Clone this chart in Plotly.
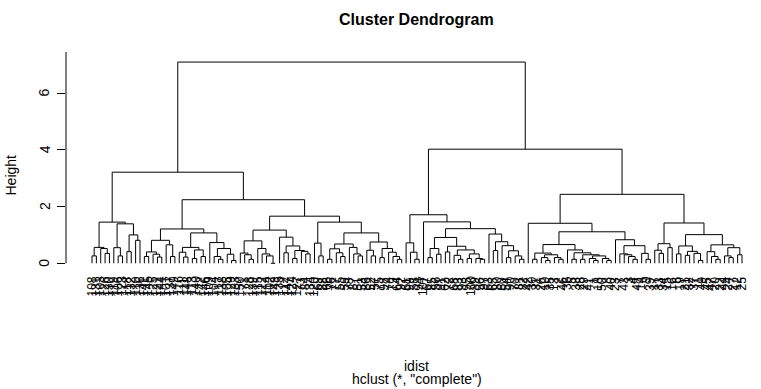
import numpy as np
import plotly.graph_objects as go

# Leaf labels in dendrogram order (left to right)
leaf_labels = [
    108, 131, 103, 126, 130, 119, 106, 123, 118, 132, 110, 136, 141, 145, 125, 121, 144, 101, 137, 149, 116, 111, 148, 113, 140,
    142, 146, 109, 104, 117, 138, 105, 129, 133, 150, 71, 128, 139, 115, 122, 114, 102, 143, 135, 112, 147, 124, 127, 73, 84,
    134, 120, 69, 88, 66, 76, 77, 55, 59, 78, 87, 51, 53, 86, 52, 57, 75, 98, 74, 79, 64, 92, 61, 99, 58,
    94, 107, 67, 85, 56, 91, 62, 72, 68, 83, 93, 95, 100, 89, 96, 97, 63, 65, 80, 60, 54, 90, 70, 81, 82,
    42, 30, 31, 26, 10, 35, 13, 2, 46, 36, 5, 38, 28, 29, 41, 1, 18, 50, 8, 40, 23, 7, 43, 3, 4,
    48, 14, 9, 39, 17, 33, 34, 15, 16, 6, 19, 21, 32, 37, 11, 49, 45, 47, 20, 22, 44, 24, 27, 12, 25,
]

# Height at which each pair of neighbouring leaves is joined
join_heights = [
    0.26, 0.56, 0.52, 0.35, 1.45, 0.55, 0.26, 1.39, 0.41, 1.00, 0.81, 3.21, 0.24, 0.40, 0.32, 0.22, 0.81, 0.65, 0.24, 1.21, 0.39, 0.22, 0.56, 0.17, 0.47,
    0.24, 1.07, 0.73, 0.24, 0.14, 0.52, 0.32, 0.10, 2.24, 0.36, 0.30, 0.14, 0.79, 0.52, 0.33, 0.26, 0.00, 1.17, 0.92, 0.37, 0.61, 0.17, 0.45, 0.42, 0.33,
    1.66, 0.71, 0.26, 1.45, 0.14, 0.51, 0.37, 0.24, 0.68, 0.56, 0.33, 0.26, 1.07, 0.46, 0.26, 0.75, 0.20, 0.52, 0.39, 0.24, 0.14, 7.09, 0.72, 0.39, 0.14,
    1.71, 1.46, 0.20, 0.52, 0.32, 0.91, 0.40, 0.60, 0.28, 0.14, 0.47, 0.17, 0.33, 0.17, 0.14, 1.22, 1.03, 0.45, 0.76, 0.62, 0.20, 0.44, 0.26, 0.14, 4.02,
    1.41, 0.14, 0.36, 0.20, 0.10, 0.30, 0.20, 0.14, 0.66, 0.47, 0.14, 0.37, 0.14, 0.30, 0.17, 0.10, 0.26, 0.17, 0.10, 1.11, 0.83, 0.33, 0.30, 0.24, 0.14,
    0.62, 0.35, 0.14, 2.43, 0.46, 0.35, 0.69, 0.55, 1.42, 0.33, 0.61, 0.28, 0.42, 0.35, 0.10, 1.01, 0.41, 0.24, 0.14, 0.65, 0.26, 0.20, 0.55, 0.30,
]

y_ticks = [0, 2, 4, 6]
title_text = "Cluster Dendrogram"
x_title = "idist"
sub_title = 'hclust (*, "complete")'
y_title = "Height"

assert sorted(leaf_labels) == list(range(1, 151))
assert len(join_heights) == len(leaf_labels) - 1

heights = np.array(join_heights)
xs_seg, ys_seg = [], []


def build(lo, hi):
    """Return (x, height) of the node covering leaves lo..hi and record its segments."""
    if lo == hi:
        return lo + 1.0, 0.0
    k = lo + int(np.argmax(heights[lo:hi]))
    h = float(heights[k])
    xl, hl = build(lo, k)
    xr, hr = build(k + 1, hi)
    xs_seg.extend([xl, xl, xr, xr, None])
    ys_seg.extend([hl, h, h, hr, None])
    return (xl + xr) / 2.0, h


build(0, len(leaf_labels) - 1)

W, H = 761, 389
# plot region in window pixels
PL, PT, PR, PB = 66, 52, 761, 298
L, T = PL, PT
R = W - PR
B = H - PB
PW, PH = PR - PL, PB - PT
X_RANGE = [-4.96, 154.355]
Y_RANGE = [-1.223, 7.445]


def px_x(p):
    return (p - PL) / PW


def px_y(p):
    return (PB - p) / PH


fig = go.Figure()
fig.add_trace(go.Scatter(x=xs_seg, y=ys_seg, mode="lines",
                         line=dict(color="black", width=1), hoverinfo="skip",
                         showlegend=False))

ann = []
font_main = "Liberation Sans, Arial, sans-serif"
for i, lab in enumerate(leaf_labels):
    ann.append(dict(x=i + 1, y=-0.43, xref="x", yref="y", text=str(lab), showarrow=False,
                    textangle=-90, xanchor="center", yanchor="top", borderpad=0,
                    font=dict(family=font_main, size=12, color="black")))
for t in y_ticks:
    ann.append(dict(x=px_x(44.5), y=t, xref="paper", yref="y", text=str(t), showarrow=False,
                    textangle=-90, xanchor="center", yanchor="middle", borderpad=0,
                    font=dict(family=font_main, size=14, color="black")))
ann.append(dict(x=px_x(416.5), y=px_y(19.5), xref="paper", yref="paper", text="<b>%s</b>" % title_text,
                showarrow=False, xanchor="center", yanchor="middle",
                font=dict(family=font_main, size=16, color="black")))
ann.append(dict(x=px_x(416.5), y=px_y(366), xref="paper", yref="paper", text=x_title,
                showarrow=False, xanchor="center", yanchor="middle", borderpad=0,
                font=dict(family=font_main, size=14, color="black")))
ann.append(dict(x=px_x(416.5), y=px_y(379), xref="paper", yref="paper", text=sub_title,
                showarrow=False, xanchor="center", yanchor="middle", borderpad=0,
                font=dict(family=font_main, size=14, color="black")))
ann.append(dict(x=px_x(10.5), y=px_y(175), xref="paper", yref="paper", text=y_title,
                showarrow=False, textangle=-90, xanchor="center", yanchor="middle",
                font=dict(family=font_main, size=14, color="black")))

fig.update_layout(
    width=W, height=H,
    margin=dict(l=L, r=R, t=T, b=B, pad=0),
    paper_bgcolor="white", plot_bgcolor="white",
    showlegend=False,
    xaxis=dict(range=X_RANGE, visible=False, fixedrange=True),
    yaxis=dict(range=Y_RANGE, showgrid=False, zeroline=False, showline=False,
               tickmode="array", tickvals=y_ticks, ticks="outside", ticklen=8,
               tickwidth=1, tickcolor="black", showticklabels=False, fixedrange=True),
    annotations=ann,
    shapes=[dict(type="line", xref="paper", yref="y", x0=0, x1=0, y0=y_ticks[0], y1=Y_RANGE[1],
                 line=dict(color="black", width=1))],
)
fig.write_html("out.html", config={"displayModeBar": False},
               post_script="document.body.style.margin='0px';document.body.style.overflow='hidden';")
